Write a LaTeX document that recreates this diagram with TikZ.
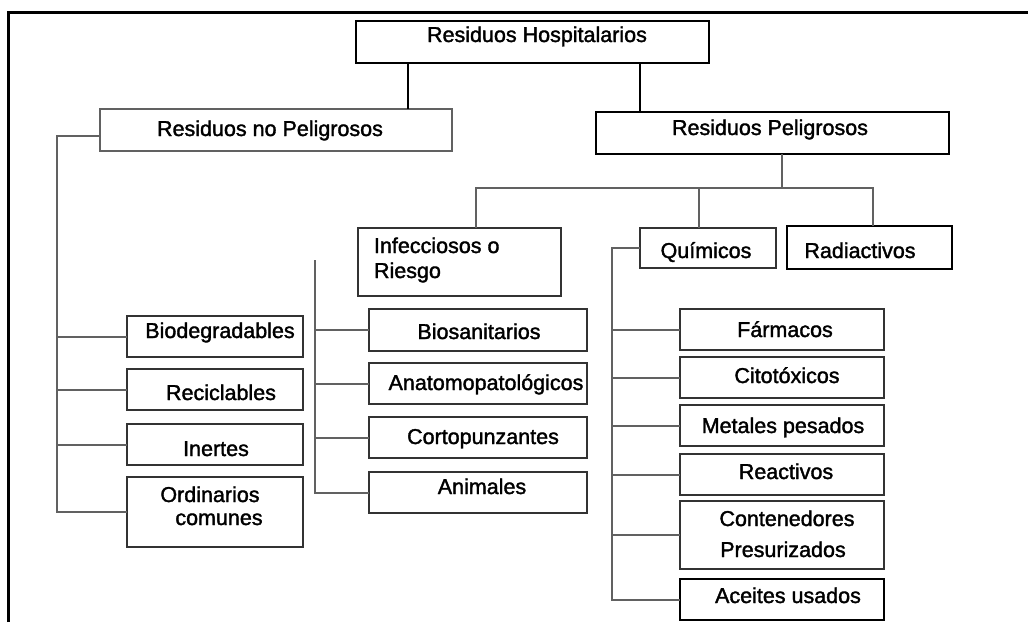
\documentclass[tikz,border=0pt]{standalone}
\usepackage{fontspec}
\setmainfont{Liberation Sans}
\newfontfamily\diagfont{Liberation Sans}[FakeBold=1.6]
\begin{document}
\begin{tikzpicture}[x=1pt,y=-1pt,
  thickbox/.style={draw=black,line width=2.8pt,inner sep=0pt,outer sep=0pt},
  box/.style={draw=black!80,line width=2pt,inner sep=0pt,outer sep=0pt},
  lightbox/.style={draw=black!62,line width=2pt,inner sep=0pt,outer sep=0pt},
  thickline/.style={draw=black,line width=2.8pt},
  conn/.style={draw=black!62,line width=2pt},
  frameline/.style={draw=black,line width=3pt},
  txt/.style={inner sep=0pt,outer sep=0pt,anchor=base,font=\diagfont\fontsize{21.5}{26}\selectfont}]
\useasboundingbox (0,0) rectangle (1028,622);
\fill[white] (0,0) rectangle (1028,622);
% frame
\draw[frameline] (8,622) -- (8,12) -- (1028,12);
% boxes
\node[thickbox,minimum width=353pt,minimum height=42pt] (rh) at (532.5,42) {};
\node[lightbox,minimum width=352pt,minimum height=42pt] (rnp) at (276,130) {};
\node[thickbox,minimum width=353pt,minimum height=42pt] (rp) at (772.5,133) {};
\node[box,minimum width=203pt,minimum height=68pt] (inf) at (459.5,262) {};
\node[box,minimum width=136pt,minimum height=40pt] (quim) at (708,248) {};
\node[thickbox,minimum width=165pt,minimum height=43pt] (rad) at (869.5,247.5) {};
\node[box,minimum width=176pt,minimum height=41pt] (bio) at (215,336.5) {};
\node[box,minimum width=176pt,minimum height=41pt] (rec) at (215,389.5) {};
\node[box,minimum width=176pt,minimum height=41pt] (ine) at (215,444.5) {};
\node[box,minimum width=176pt,minimum height=70pt] (ord) at (215,512) {};
\node[box,minimum width=218pt,minimum height=42pt] (bios) at (478,330) {};
\node[box,minimum width=218pt,minimum height=41pt] (anat) at (478,383.5) {};
\node[box,minimum width=218pt,minimum height=41pt] (cort) at (478,437.5) {};
\node[box,minimum width=218pt,minimum height=41pt] (ani) at (478,492.5) {};
\node[box,minimum width=204pt,minimum height=41pt] (far) at (782,329.5) {};
\node[box,minimum width=204pt,minimum height=41pt] (cit) at (782,377.5) {};
\node[box,minimum width=204pt,minimum height=41pt] (met) at (782,425.5) {};
\node[box,minimum width=204pt,minimum height=41pt] (rea) at (782,474.5) {};
\node[box,minimum width=204pt,minimum height=68pt] (con) at (782,535) {};
\node[thickbox,minimum width=204pt,minimum height=41pt] (ace) at (782,599.5) {};
% texts
\node[txt] (t-rh) at (537,42) {Residuos Hospitalarios};
\node[txt] (t-rnp) at (270,136) {Residuos no Peligrosos};
\node[txt] (t-rp) at (770,135) {Residuos Peligrosos};
\node[txt,anchor=base west] (t-inf1) at (374,253) {Infecciosos o};
\node[txt,anchor=base west] (t-inf2) at (374,278) {Riesgo};
\node[txt] (t-quim) at (706,258) {Químicos};
\node[txt] (t-rad) at (860,258) {Radiactivos};
\node[txt] (t-bio) at (220,338) {Biodegradables};
\node[txt] (t-rec) at (221,400) {Reciclables};
\node[txt] (t-ine) at (216,456) {Inertes};
\node[txt] (t-ord1) at (210,502) {Ordinarios};
\node[txt] (t-ord2) at (219,525) {comunes};
\node[txt] (t-bios) at (479,339) {Biosanitarios};
\node[txt] (t-anat) at (486,390) {Anatomopatológicos};
\node[txt] (t-cort) at (483,444) {Cortopunzantes};
\node[txt] (t-ani) at (482,494) {Animales};
\node[txt] (t-far) at (785,337) {Fármacos};
\node[txt] (t-cit) at (787,383) {Citotóxicos};
\node[txt] (t-met) at (783,433) {Metales pesados};
\node[txt] (t-rea) at (786,479) {Reactivos};
\node[txt] (t-con1) at (787,526) {Contenedores};
\node[txt] (t-con2) at (783,557) {Presurizados};
\node[txt] (t-ace) at (788,603) {Aceites usados};
% junction coordinates
\coordinate (j1) at (408,0);
\coordinate (j2) at (640,0);
\coordinate (pj) at (782,188);
\coordinate (bx1) at (476,0);
\coordinate (bx2) at (699,0);
\coordinate (bx3) at (873,0);
\coordinate (lx) at (57,0);
\coordinate (mx) at (315,260);
\coordinate (qx) at (612,0);
% top connectors
\draw[thickline] (rh.south -| j1) -- (rnp.north -| j1);
\draw[thickline] (rh.south -| j2) -- (rp.north -| j2);
% peligrosos bus
\draw[conn] (rp.south -| pj) -- (pj);
\draw[conn] (inf.north -| bx1) -- (bx1 |- pj) -- (bx3 |- pj) -- (rad.north -| bx3);
\draw[conn] (quim.north -| bx2) -- (bx2 |- pj);
% left tree
\draw[conn] ([yshift=-6pt]rnp.west) -| (ord.west -| lx) -- (ord.west);
\draw[conn] (bio.west -| lx) -- (bio.west);
\draw[conn] (rec.west -| lx) -- (rec.west);
\draw[conn] (ine.west -| lx) -- (ine.west);
% middle tree
\draw[conn] (mx) -- (ani.west -| mx) -- (ani.west);
\draw[conn] (bios.west -| mx) -- (bios.west);
\draw[conn] (anat.west -| mx) -- (anat.west);
\draw[conn] (cort.west -| mx) -- (cort.west);
% right tree
\draw[conn] (quim.west) -| (ace.west -| qx) -- (ace.west);
\draw[conn] (far.west -| qx) -- (far.west);
\draw[conn] (cit.west -| qx) -- (cit.west);
\draw[conn] (met.west -| qx) -- (met.west);
\draw[conn] (rea.west -| qx) -- (rea.west);
\draw[conn] (con.west -| qx) -- (con.west);
\end{tikzpicture}
\end{document}
